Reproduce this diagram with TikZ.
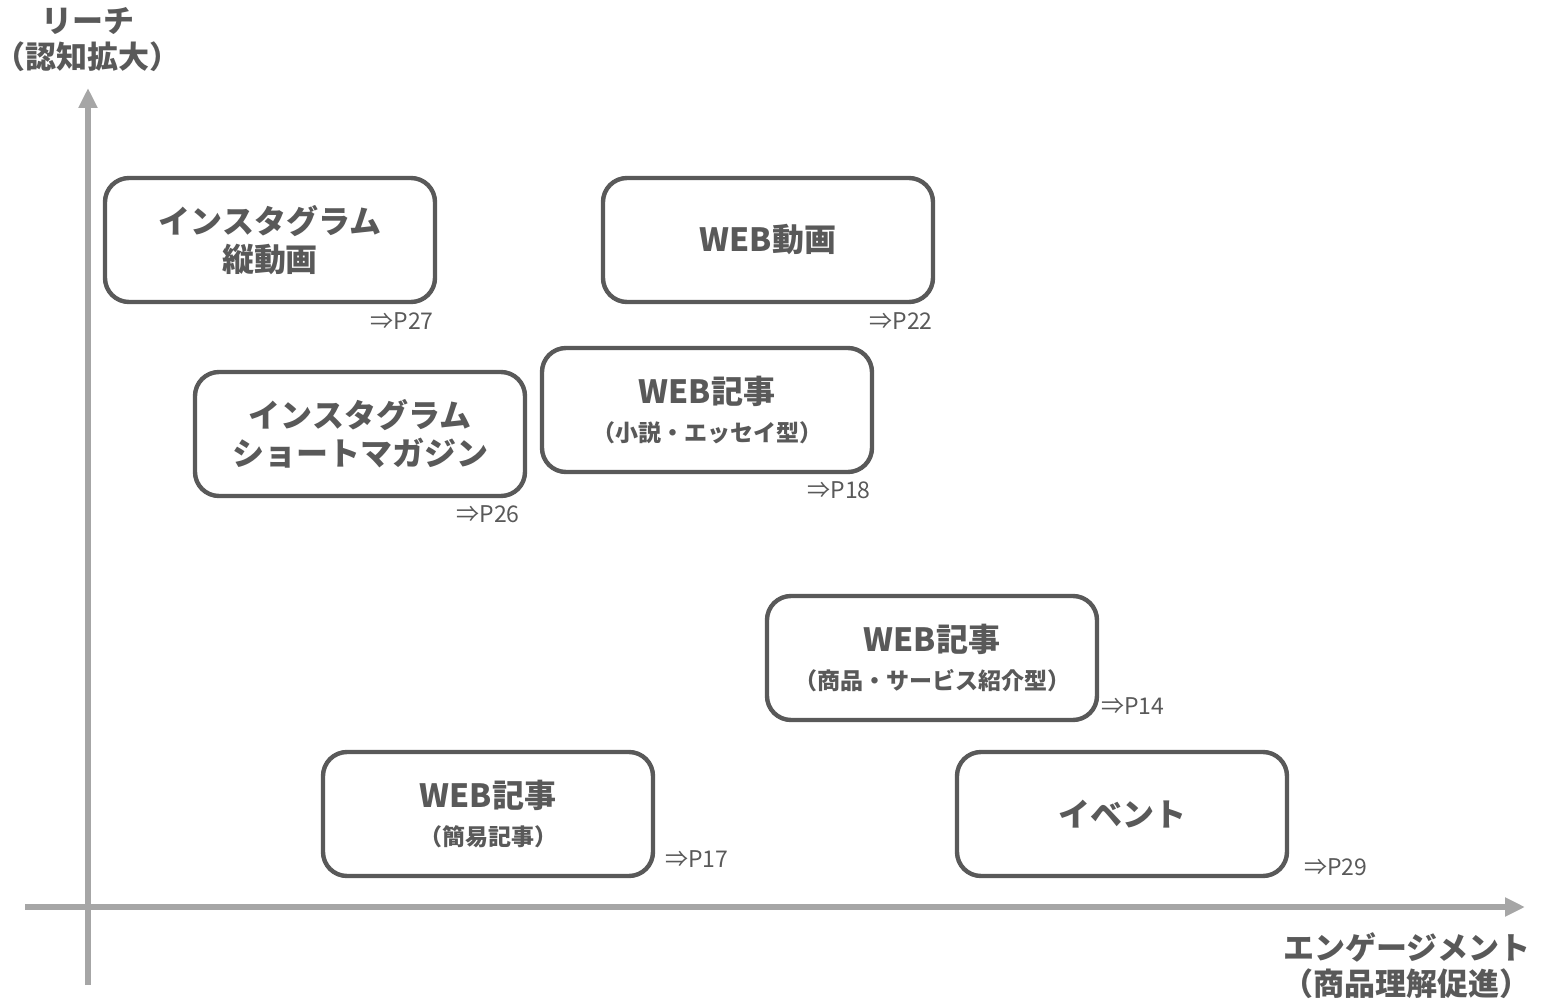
\documentclass[tikz,border=0pt]{standalone}
\usepackage{fontspec}
\setmainfont{Noto Sans CJK JP}
\usetikzlibrary{arrows.meta}
\definecolor{txtgray}{HTML}{595959}
\definecolor{axisgray}{HTML}{A6A6A6}
\newcommand{\subl}[1]{{\fontsize{11.5}{14}\selectfont #1}}
\tikzset{
	medium/.style={draw=txtgray,line width=2.2pt,rounded corners=12pt,fill=white,
		minimum width=165pt,minimum height=62pt,align=center,text=txtgray,
		font=\bfseries\fontsize{16}{19}\selectfont},
	axis/.style={draw=axisgray,line width=3pt,-{Triangle[length=10pt,width=9pt]}},
	axlabel/.style={text=txtgray,align=center,font=\bfseries\fontsize{15.5}{18}\selectfont},
	pref/.style={text=txtgray,inner sep=0pt,font=\fontsize{11.5}{13}\selectfont}
}
\begin{document}
\begin{tikzpicture}[x=0.5pt,y=-0.5pt]
	\useasboundingbox (0,0) rectangle (1549,1000);
	% axes
	\coordinate (ybot) at (88,985);
	\coordinate (ytop) at (88,88);
	\coordinate (xleft) at (25,907);
	\coordinate (xright) at (1525,907);
	\draw[axis] (ybot) -- (ytop);
	\draw[axis] (xleft) -- (xright);
	\node[axlabel] (reach) at (88,40) {リーチ\\（認知拡大）};
	\node[axlabel,anchor=east] (engage) at (1538,966) {エンゲージメント\\（商品理解促進）};
	% media
	\node[medium] (instav) at (270,240) {インスタグラム\\縦動画};
	\node[medium] (webv) at (768,240) {WEB動画};
	\node[medium] (instam) at (360,434) {インスタグラム\\ショートマガジン};
	\node[medium] (webn) at (707,410) {WEB記事\\\subl{（小説・エッセイ型）}};
	\node[medium] (webp) at (932,658) {WEB記事\\\subl{（商品・サービス紹介型）}};
	\node[medium] (webs) at (488,814) {WEB記事\\\subl{（簡易記事）}};
	\node[medium] (event) at (1122,814) {イベント};
	% page references
	\node[pref,anchor=east] (p27) at (434,321) {⇒P27};
	\node[pref,anchor=east] (p22) at (933,321) {⇒P22};
	\node[pref,anchor=east] (p26) at (520,514) {⇒P26};
	\node[pref,anchor=east] (p18) at (871,490) {⇒P18};
	\node[pref,anchor=west] (p14) at (1101,706) {⇒P14};
	\node[pref,anchor=west] (p17) at (665,859) {⇒P17};
	\node[pref,anchor=west] (p29) at (1304,867) {⇒P29};
\end{tikzpicture}
\end{document}
